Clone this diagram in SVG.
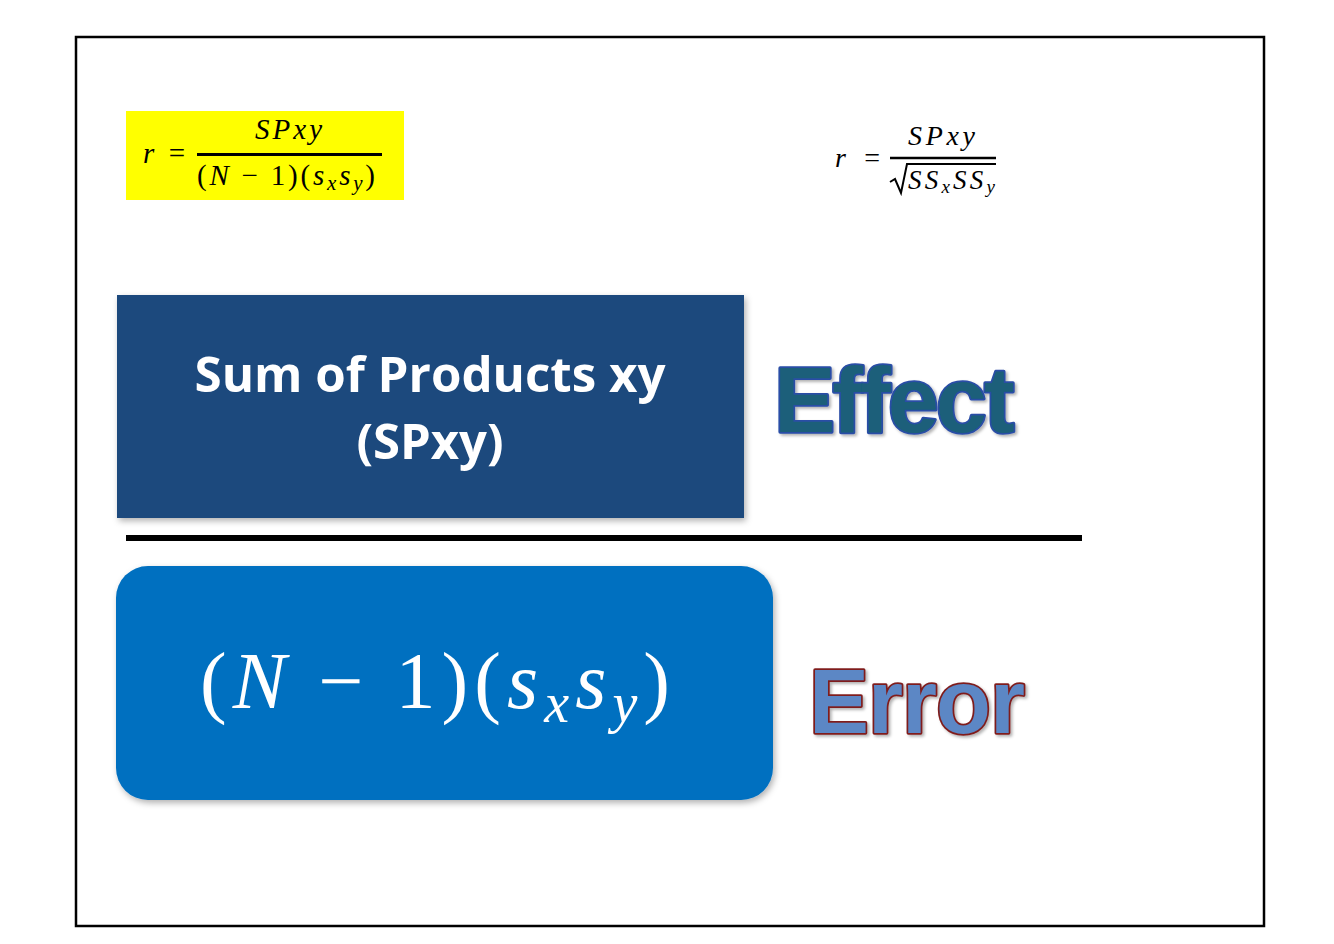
<svg xmlns="http://www.w3.org/2000/svg" width="1334" height="944" viewBox="0 0 1334 944">
<style>
.m{font-family:"Liberation Serif","DejaVu Serif",serif;font-style:italic;fill:#000}
.mu{font-family:"Liberation Serif","DejaVu Serif",serif;font-style:normal}
.box{font-family:"Open Sans","Liberation Sans",sans-serif;font-weight:bold;fill:#fff;text-anchor:middle}
.big{font-family:"Liberation Sans",Arial,sans-serif;font-weight:bold;stroke-width:3.5;paint-order:stroke;stroke-linejoin:round}
</style>
<defs>
<filter id="sh" x="-10%" y="-10%" width="120%" height="130%">
<feDropShadow dx="2" dy="3" stdDeviation="3" flood-color="#000" flood-opacity="0.3"/>
</filter>
<filter id="ts" x="-10%" y="-10%" width="120%" height="130%">
<feDropShadow dx="2" dy="2" stdDeviation="1.5" flood-color="#000" flood-opacity="0.3"/>
</filter>
</defs>
<rect x="0" y="0" width="1334" height="944" fill="#fff"/>
<rect x="76" y="37" width="1188" height="889" fill="none" stroke="#000" stroke-width="2.5"/>

<g id="formula1">
<rect x="126" y="111" width="278" height="89" fill="#ffff00"/>
<text class="m" x="143" y="163" font-size="29" textLength="42" lengthAdjust="spacing">r <tspan class="mu">=</tspan></text>
<text class="m" x="255" y="139" font-size="29" textLength="67" lengthAdjust="spacing">SPxy</text>
<line x1="197" y1="154.5" x2="382" y2="154.5" stroke="#000" stroke-width="3"/>
<text class="m" x="197" y="185" font-size="29" textLength="178" lengthAdjust="spacing"><tspan class="mu">(</tspan>N <tspan class="mu">− 1)(</tspan>s<tspan font-size="21" dy="5">x</tspan><tspan dy="-5">s</tspan><tspan font-size="21" dy="5">y</tspan><tspan class="mu" dy="-5">)</tspan></text>
</g>

<g id="formula2">
<text class="m" x="835" y="167" font-size="28" textLength="45" lengthAdjust="spacing">r <tspan class="mu">=</tspan></text>
<text class="m" x="908" y="145" font-size="28" textLength="67" lengthAdjust="spacing">SPxy</text>
<line x1="890" y1="158" x2="996" y2="158" stroke="#000" stroke-width="2.5"/>
<path d="M890 182 L895 179 L901 193 L907 164 L996 164" fill="none" stroke="#000" stroke-width="2"/>
<text class="m" x="908" y="189" font-size="27" textLength="87" lengthAdjust="spacing">SS<tspan font-size="19" dy="4">x</tspan><tspan dy="-4">SS</tspan><tspan font-size="19" dy="4">y</tspan></text>
</g>

<g id="effect-box">
<rect x="117" y="295" width="627" height="223" fill="#1f497d" filter="url(#sh)"/>
<text class="box" x="430" y="392" font-size="49" textLength="471" lengthAdjust="spacingAndGlyphs">Sum of Products xy</text>
<text class="box" x="430" y="459" font-size="49">(SPxy)</text>
</g>

<g id="connectors">
<line x1="126" y1="538" x2="1082" y2="538" stroke="#000" stroke-width="6"/>
</g>

<g id="error-box">
<rect x="116" y="566" width="657" height="234" rx="32" fill="#0070c0" filter="url(#sh)"/>
<text class="m" x="200" y="708" font-size="80" style="fill:#fff" textLength="470" lengthAdjust="spacing"><tspan class="mu">(</tspan>N <tspan class="mu">− 1)(</tspan>s<tspan font-size="56" dy="14">x</tspan><tspan dy="-14">s</tspan><tspan font-size="56" dy="14">y</tspan><tspan class="mu" dy="-14">)</tspan></text>
</g>

<g id="effect-label">
<text class="big" x="774" y="432" font-size="92" fill="#1a5f7a" stroke="#2a4ea6" letter-spacing="-3" filter="url(#ts)">Effect</text>
</g>

<g id="error-label">
<text class="big" x="809" y="733" font-size="90" fill="#5b87c5" stroke="#7f1f1f" letter-spacing="-1" filter="url(#ts)">Error</text>
</g>
</svg>
